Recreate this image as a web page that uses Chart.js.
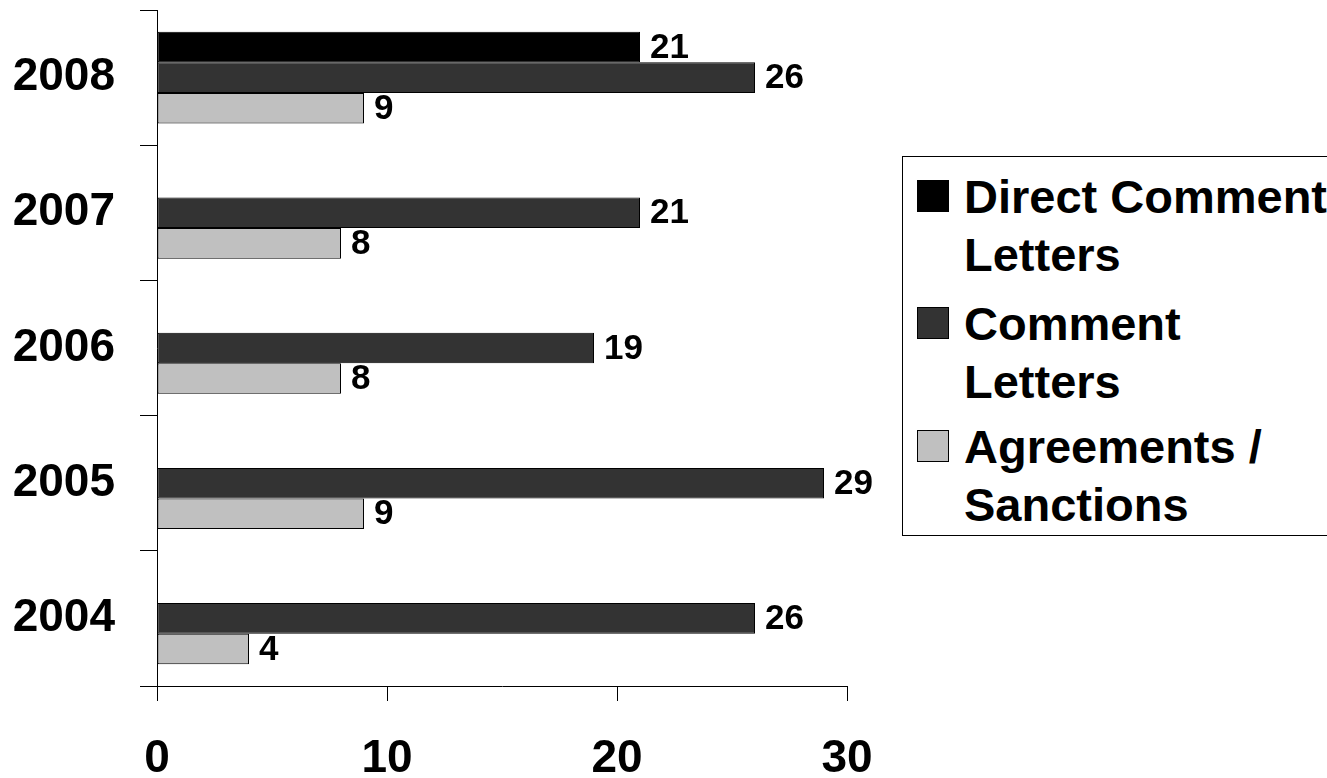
<!DOCTYPE html>
<html>
<head>
<meta charset="utf-8">
<script src="https://cdn.jsdelivr.net/npm/chart.js@4"></script>
<style>
  html, body { margin: 0; padding: 0; background: #fff; overflow: hidden; }
  #wrap { position: relative; width: 1327px; height: 778px; overflow: hidden; }
  canvas { position: absolute; left: 0; top: 0; }
  #legend {
    position: absolute; left: 902px; top: 156px; width: 620px; height: 380px;
    border: 1px solid #000; box-sizing: border-box; background: #fff;
    font-family: "Liberation Sans", Arial, sans-serif; font-weight: bold;
    font-size: 47px; line-height: 58px; color: #000; white-space: nowrap;
  }
  .item { position: absolute; left: 0; }
  .mk { position: absolute; left: 14px; width: 32px; height: 32px; box-sizing: border-box; border: 1px solid #000; }
  .tx { position: absolute; left: 61px; top: 0; }
</style>
</head>
<body>
<div id="wrap">
  <canvas id="c" width="1327" height="778"></canvas>
  <div id="legend"></div>
</div>
<script>
const categories = ['2008', '2007', '2006', '2005', '2004'];
const directCommentLetters = [21, null, null, null, null];
const commentLetters = [26, 21, 19, 29, 26];
const agreementsSanctions = [9, 8, 8, 9, 4];
const xTicks = [0, 10, 20, 30];

const seriesNames = [['Direct Comment', 'Letters'], ['Comment', 'Letters'], ['Agreements /', 'Sanctions']];
const seriesColors = ['#000000', '#333333', '#C0C0C0'];
const FONT = '"Liberation Sans", Arial, sans-serif';

// legend (HTML, wrapped text)
const legend = document.getElementById('legend');
const itemTops = [11, 138, 261];
seriesNames.forEach((lines, i) => {
  const it = document.createElement('div');
  it.className = 'item';
  it.style.top = itemTops[i] + 'px';
  const mk = document.createElement('div');
  mk.className = 'mk';
  mk.style.top = '12px';
  mk.style.background = seriesColors[i];
  const tx = document.createElement('div');
  tx.className = 'tx';
  tx.innerHTML = lines.join('<br>');
  it.appendChild(mk);
  it.appendChild(tx);
  legend.appendChild(it);
});

const valueLabels = {
  id: 'valueLabels',
  afterDatasetsDraw(chart) {
    const ctx = chart.ctx;
    ctx.save();
    ctx.font = 'bold 35px ' + FONT;
    ctx.fillStyle = '#000';
    ctx.textAlign = 'left';
    ctx.textBaseline = 'middle';
    chart.data.datasets.forEach((ds, di) => {
      const meta = chart.getDatasetMeta(di);
      meta.data.forEach((el, i) => {
        const v = ds.data[i];
        if (v === null || v === undefined) return;
        ctx.fillText(String(v), el.x + 10, el.y + 1);
      });
    });
    ctx.restore();
  }
};

new Chart(document.getElementById('c'), {
  type: 'bar',
  data: {
    labels: categories,
    datasets: [
      { label: 'Direct Comment Letters', data: directCommentLetters, backgroundColor: seriesColors[0] },
      { label: 'Comment Letters', data: commentLetters, backgroundColor: seriesColors[1] },
      { label: 'Agreements / Sanctions', data: agreementsSanctions, backgroundColor: seriesColors[2] }
    ]
  },
  options: {
    indexAxis: 'y',
    responsive: false,
    animation: false,
    devicePixelRatio: 1,
    layout: { padding: { top: 10, right: 480, left: 0, bottom: 0 } },
    datasets: {
      bar: {
        borderColor: '#000',
        borderWidth: 1,
        borderSkipped: false,
        barPercentage: 1,
        categoryPercentage: 0.678
      }
    },
    plugins: {
      legend: { display: false },
      tooltip: { enabled: false }
    },
    scales: {
      x: {
        type: 'linear',
        min: 0,
        max: 30,
        afterBuildTicks(scale) { scale.ticks = xTicks.map(v => ({ value: v })); },
        afterFit(scale) { scale.height = 92; scale.paddingLeft = 0; scale.paddingRight = 0; },
        grid: { drawOnChartArea: false, drawTicks: true, tickLength: 15, color: '#000', lineWidth: 1 },
        border: { display: true, color: '#000', width: 1 },
        ticks: { color: '#000', padding: 31, font: { family: FONT, size: 46, weight: 'bold' } }
      },
      y: {
        type: 'category',
        afterFit(scale) { scale.width = 157; scale.paddingTop = 0; scale.paddingBottom = 0; },
        grid: { offset: true, drawOnChartArea: false, drawTicks: true, tickLength: 17, color: '#000', lineWidth: 1 },
        border: { display: true, color: '#000', width: 1 },
        ticks: { color: '#000', padding: 25, font: { family: FONT, size: 46, weight: 'bold' } }
      }
    }
  },
  plugins: [valueLabels]
});
</script>
</body>
</html>
